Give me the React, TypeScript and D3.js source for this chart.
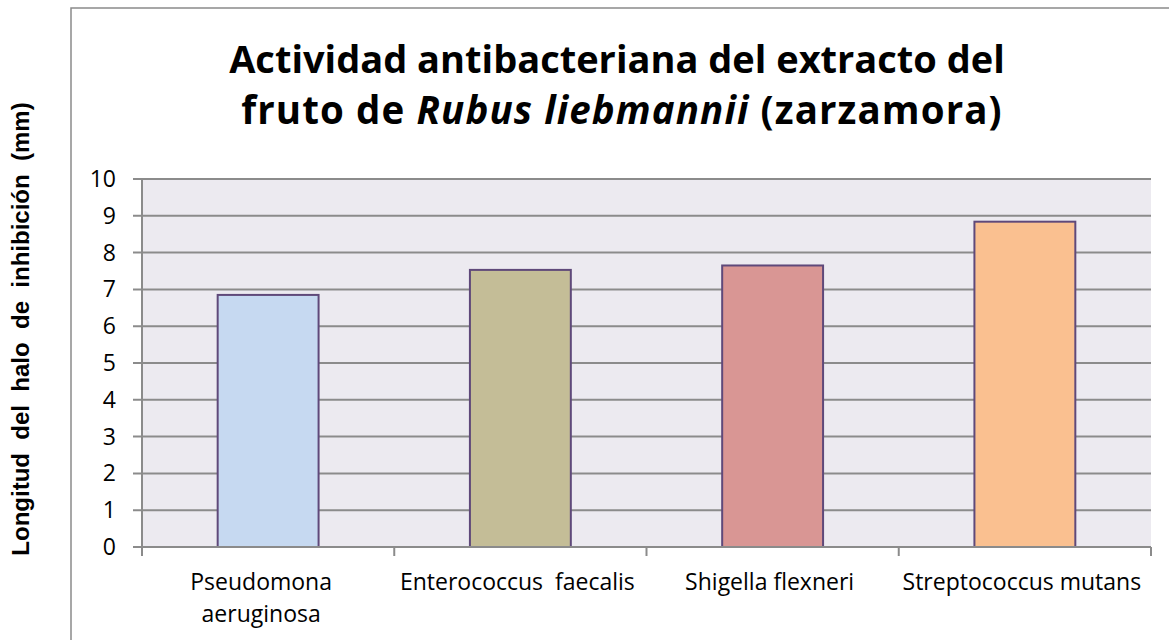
import React from "react";
import * as d3 from "d3";

const categories = ["Pseudomona aeruginosa", "Enterococcus  faecalis", "Shigella flexneri", "Streptococcus mutans"];
const categoryLines = [["Pseudomona", "aeruginosa"], ["Enterococcus  faecalis"], ["Shigella flexneri"], ["Streptococcus mutans"]];
const values = [6.85, 7.53, 7.65, 8.84];
const barColors = ["#C6D9F1", "#C4BD97", "#D99694", "#FAC090"];
const yTicks = [0, 1, 2, 3, 4, 5, 6, 7, 8, 9, 10];
const titleLine1 = "Actividad antibacteriana del extracto del";
const yTitle = "Longitud  del  halo  de  inhibición  (mm)";

const W = 1169;
const H = 640;
const plotLeft = 142;
const plotRight = 1151;
const plotTop = 179;
const plotBottom = 547;

export default function App() {
  const x = d3
    .scaleBand<string>()
    .domain(categories)
    .range([plotLeft, plotRight])
    .paddingInner(0.6)
    .paddingOuter(0.3);
  const y = d3.scaleLinear().domain([0, 10]).range([plotBottom, plotTop]);
  const step = x.step();
  const boundaries = d3.range(categories.length + 1).map((i) => plotLeft + i * step);

  return (
    <svg
      width={W}
      height={H}
      style={{ position: "absolute", left: 0, top: 0, background: "#fff" }}
    >
      {/* chart frame */}
      <path d={`M71,${H + 5} L71,8 L${W + 5},8`} fill="none" stroke="#8a8a8a" strokeWidth={1.5} />

      {/* title */}
      <text
        x={617}
        y={73}
        textAnchor="middle"
        fontFamily="'Open Sans', sans-serif"
        fontWeight={700}
        fontSize={38}
        fill="#000"
      >
        {titleLine1}
      </text>
      <text
        x={622}
        y={124}
        textAnchor="middle"
        fontFamily="'Open Sans', sans-serif"
        fontWeight={700}
        fontSize={38.5}
        letterSpacing={1.1}
        fill="#000"
      >
        <tspan>fruto de </tspan>
        <tspan fontStyle="italic">Rubus liebmannii</tspan>
        <tspan> (zarzamora)</tspan>
      </text>

      {/* plot background */}
      <rect
        x={plotLeft}
        y={plotTop}
        width={plotRight - plotLeft}
        height={plotBottom - plotTop}
        fill="#ECEAF0"
      />

      {/* gridlines and y ticks */}
      {yTicks.map((t) => (
        <g key={t}>
          <line
            x1={133}
            x2={plotRight}
            y1={y(t)}
            y2={y(t)}
            stroke="#8b8b8b"
            strokeWidth={2}
          />
          <text
            x={116}
            y={y(t)}
            dy="0.35em"
            textAnchor="end"
            fontFamily="'Open Sans', sans-serif"
            fontSize={23}
            fill="#000"
          >
            {t}
          </text>
        </g>
      ))}

      {/* y axis line */}
      <line x1={plotLeft} x2={plotLeft} y1={plotTop} y2={plotBottom} stroke="#8b8b8b" strokeWidth={2} />

      {/* bars */}
      {categories.map((c, i) => (
        <rect
          key={c}
          x={x(c)}
          y={y(values[i])}
          width={x.bandwidth()}
          height={y(0) - y(values[i])}
          fill={barColors[i]}
          stroke="#5F497A"
          strokeWidth={2}
        />
      ))}

      {/* x axis */}
      <line x1={plotLeft} x2={plotRight} y1={plotBottom} y2={plotBottom} stroke="#8b8b8b" strokeWidth={2} />
      {boundaries.map((b, i) => (
        <line key={i} x1={b} x2={b} y1={plotBottom} y2={plotBottom + 9} stroke="#8b8b8b" strokeWidth={2} />
      ))}

      {/* category labels */}
      {categories.map((c, i) => (
        <text
          key={c}
          textAnchor="middle"
          fontFamily="'Open Sans', sans-serif"
          fontSize={23}
          fill="#000"
          style={{ whiteSpace: "pre" }}
        >
          {categoryLines[i].map((ln, j) => (
            <tspan key={j} x={(x(c) as number) + x.bandwidth() / 2 - (categoryLines[i].length > 1 ? 7 : 3)} y={590 + j * 32}>
              {ln}
            </tspan>
          ))}
        </text>
      ))}

      {/* y axis title */}
      <text
        transform="translate(29,329) rotate(-90)"
        textAnchor="middle"
        fontFamily="'Liberation Sans', Arial, sans-serif"
        fontWeight={700}
        fontSize={24}
        fill="#000"
        style={{ whiteSpace: "pre" }}
      >
        {yTitle}
      </text>
    </svg>
  );
}
